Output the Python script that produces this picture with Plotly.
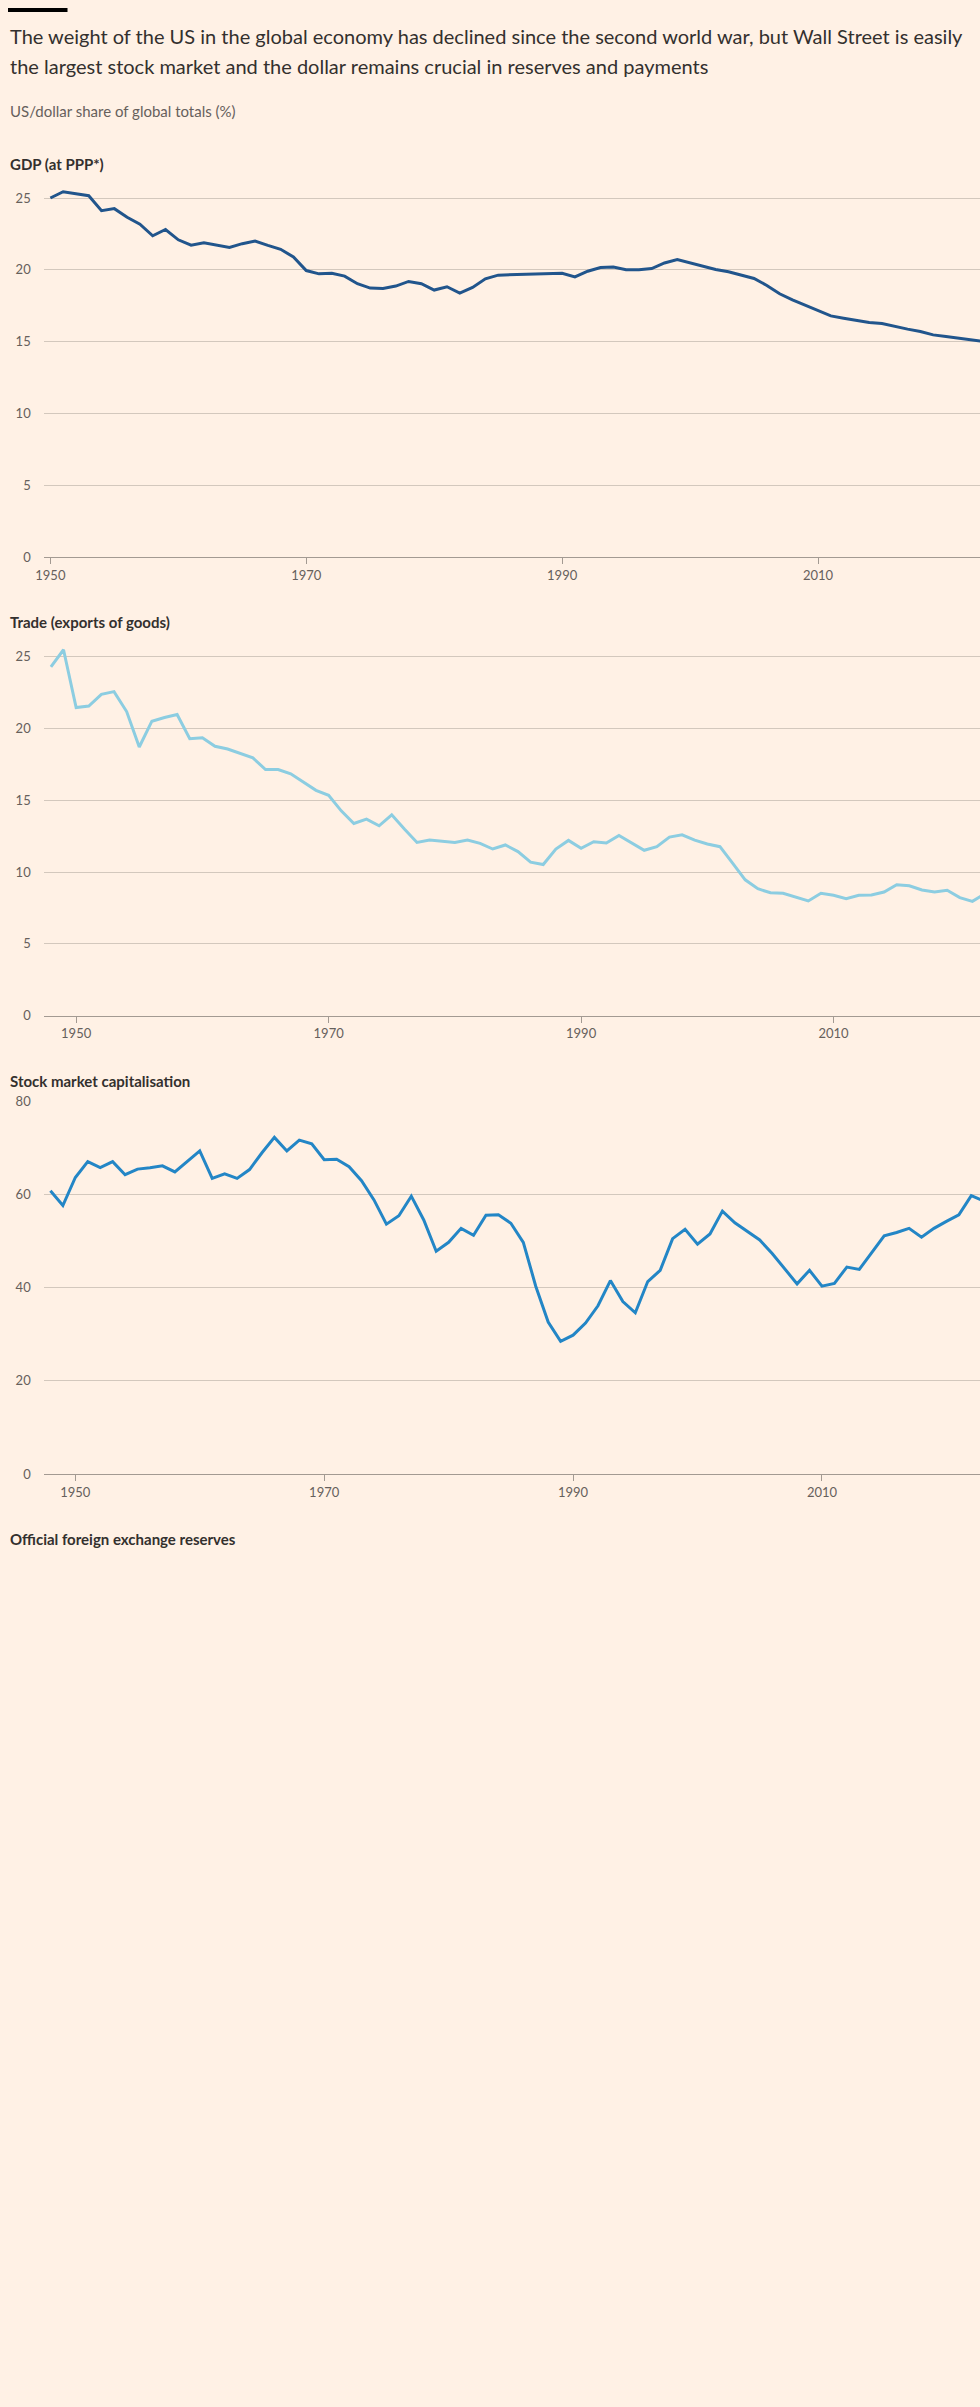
import plotly.graph_objects as go

# Chart data (US/dollar share of global totals, %)
gdp_years = list(range(1950, 2024))
gdp_share = [
    25.0, 25.44, 25.3, 25.16, 24.12, 24.26, 23.66, 23.18, 22.37, 22.81,
    22.09, 21.72, 21.89, 21.75, 21.56, 21.82, 22.0, 21.7, 21.43, 20.89,
    19.95, 19.72, 19.76, 19.56, 19.03, 18.73, 18.7, 18.87, 19.19, 19.03,
    18.59, 18.82, 18.38, 18.77, 19.37, 19.63, 19.65, 19.67, 19.7, 19.76,
    19.76, 19.5, 19.9, 20.16, 20.2, 20.0, 20.0, 20.09, 20.48, 20.71,
    20.48, 20.2, 20.02, 19.86, 19.65, 19.4, 18.91, 18.33, 17.9, 17.53,
    17.14, 16.79, 16.63, 16.47, 16.33, 16.26, 16.05, 15.87, 15.7, 15.47,
    15.36, 15.24, 15.1, 15.0,
]

trade_years = list(range(1948, 2023))
trade_share = [
    24.3, 25.5,
    21.47, 21.58, 22.39, 22.58, 21.19, 18.72, 20.52, 20.78, 20.98, 19.3,
    19.37, 18.77, 18.58, 18.26, 17.96, 17.15, 17.15, 16.85, 16.27, 15.7,
    15.35, 14.27, 13.39, 13.69, 13.23, 13.99, 13.0, 12.07, 12.23, 12.14,
    12.07, 12.23, 12.0, 11.61, 11.89, 11.43, 10.69, 10.53, 11.61, 12.21,
    11.66, 12.12, 12.03, 12.56, 12.03, 11.52, 11.77, 12.44, 12.6, 12.23,
    11.96, 11.77, 10.62, 9.46, 8.84, 8.56, 8.52, 8.26, 7.99, 8.52,
    8.38, 8.15, 8.38, 8.4, 8.61, 9.12, 9.05, 8.75, 8.61, 8.73,
    8.22, 7.96, 8.5,
]

stock_years = list(range(1948, 2024))
stock_share = [
    60.75, 57.6,
    63.6, 67.0, 65.7, 67.0, 64.2, 65.4, 65.7, 66.1, 64.8, 67.1,
    69.3, 63.4, 64.4, 63.4, 65.3, 68.9, 72.2, 69.3, 71.6, 70.8,
    67.4, 67.5, 65.9, 62.9, 58.8, 53.6, 55.4, 59.6, 54.5, 47.8,
    49.7, 52.7, 51.2, 55.5, 55.6, 53.8, 49.7, 40.3, 32.6, 28.5,
    29.8, 32.4, 36.1, 41.5, 37.0, 34.6, 41.3, 43.7, 50.5, 52.5,
    49.3, 51.5, 56.4, 53.9, 52.1, 50.2, 47.3, 44.1, 40.8, 43.7,
    40.3, 40.9, 44.4, 43.9, 47.6, 51.1, 51.8, 52.7, 50.8, 52.7,
    54.2, 55.6, 59.7, 58.6,
]

x_ticks = [1950, 1970, 1990, 2010]
gdp_ticks = [0, 5, 10, 15, 20, 25]
trade_ticks = [0, 5, 10, 15, 20, 25]
stock_ticks = [0, 20, 40, 60, 80]

title_lines = [
    "The weight of the US in the global economy has declined since the second world war, but Wall Street is easily",
    "the largest stock market and the dollar remains crucial in reserves and payments",
]
subtitle = "US/dollar share of global totals (%)"
panel_titles = ["GDP (at PPP*)", "Trade (exports of goods)",
                "Stock market capitalisation", "Official foreign exchange reserves"]

# Page geometry
W, H = 980, 2407
BG = "#fff1e5"
INK = "#33302e"
MUTED = "#66605c"
GRID = "#d3c8bd"
BASE = "#a39a92"
FONT = "Lato"


def py(px):
    # pixel from top -> paper fraction
    return 1 - px / H


fig = go.Figure()

fig.add_trace(go.Scatter(x=gdp_years, y=gdp_share, mode="lines",
                         line=dict(color="#21558c", width=3),
                         xaxis="x", yaxis="y", hoverinfo="x+y"))
fig.add_trace(go.Scatter(x=trade_years, y=trade_share, mode="lines",
                         line=dict(color="#8ccde1", width=3),
                         xaxis="x2", yaxis="y2", hoverinfo="x+y"))
fig.add_trace(go.Scatter(x=stock_years, y=stock_share, mode="lines",
                         line=dict(color="#2386c6", width=3),
                         xaxis="x3", yaxis="y3", hoverinfo="x+y"))


def xax(rng, anchor):
    return dict(domain=[36 / W, 1], range=rng, anchor=anchor,
                tickvals=x_ticks, showgrid=False, zeroline=False,
                showline=True, linecolor=BASE, linewidth=1,
                ticks="outside", ticklen=6, tickcolor=BASE, tickwidth=1,
                tickfont=dict(family=FONT, size=13, color=MUTED),
                fixedrange=True)


def yax(dom, rng, vals, anchor):
    return dict(domain=dom, range=rng, anchor=anchor, tickvals=vals,
                showgrid=True, gridcolor=GRID, gridwidth=1,
                zeroline=False, showline=False, ticks="",
                ticklabelstandoff=12,
                tickfont=dict(family=FONT, size=13, color=MUTED),
                fixedrange=True)


fig.update_layout(
    width=W, height=H,
    margin=dict(l=0, r=0, t=0, b=0, pad=0),
    paper_bgcolor=BG, plot_bgcolor=BG,
    showlegend=False,
    font=dict(family=FONT, color=INK),
    xaxis=xax([1949.48, 2022.66], "y"),
    yaxis=yax([py(552.7), py(169.6)], [0, 26.5], gdp_ticks, "x"),
    xaxis2=xax([1947.43, 2021.6], "y2"),
    yaxis2=yax([py(1014.3), py(631.6)], [0, 26.5], trade_ticks, "x2"),
    xaxis3=xax([1947.46, 2022.7], "y3"),
    yaxis3=yax([py(1476), py(1100.3)], [0, 80], stock_ticks, "x3"),
)

# black FT-style bar at the top
fig.add_shape(type="rect", xref="paper", yref="paper",
              x0=0, x1=60 / W, y0=py(4), y1=1,
              fillcolor="#000000", line_width=0)

notes = [
    (title_lines[0], 28.5, 20, INK, 400),
    (title_lines[1], 58.3, 20, INK, 400),
    (subtitle, 104, 15, MUTED, 400),
    (panel_titles[0], 156.7, 15, INK, 700),
    (panel_titles[1], 618.3, 15, INK, 700),
    (panel_titles[2], 1080, 15, INK, 700),
    (panel_titles[3], 1541.7, 15, INK, 700),
]
for text, ypx, size, color, weight in notes:
    fig.add_annotation(text=text, xref="paper", yref="paper",
                       x=0, y=py(ypx), xanchor="left", yanchor="middle",
                       showarrow=False, align="left",
                       font=dict(family=FONT, size=size, color=color, weight=weight))

# drop the browser's default body margin so the chart sits flush at 0,0
fig.write_html("out.html",
               config={"displayModeBar": False},
               post_script="document.body.style.margin='0';"
                           "document.body.style.background='#fff1e5';")
